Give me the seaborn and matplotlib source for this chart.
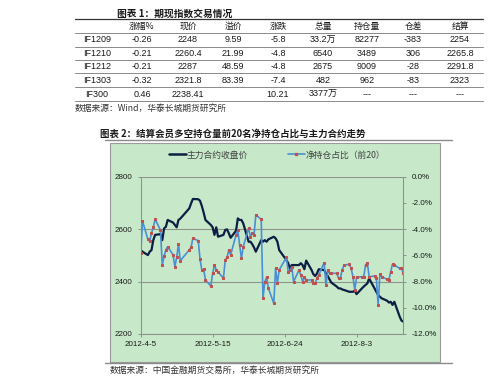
import numpy as np
import pandas as pd
import matplotlib
matplotlib.use("Agg")
import matplotlib.pyplot as plt
import matplotlib.dates as mdates
from matplotlib.lines import Line2D
from matplotlib.patches import Rectangle
from matplotlib.ticker import FuncFormatter
import seaborn as sns

sns.set_theme(style="white")
plt.rcParams["font.family"] = ["Liberation Sans", "Noto Sans CJK SC", "DejaVu Sans"]

# ---------------- table data ----------------
table_title = "图表 1：期现指数交易情况"
table_header = ["", "涨幅%", "现价", "溢价", "涨跌", "总量", "持仓量", "仓差", "结算"]
contracts = ["IF1209", "IF1210", "IF1212", "IF1303", "IF300"]
chg_pct = ["-0.26", "-0.21", "-0.21", "-0.32", "0.46"]
last_price = ["2248", "2260.4", "2287", "2321.8", "2238.41"]
premium = ["9.59", "21.99", "48.59", "83.39", ""]
chg = ["-5.8", "-4.8", "-4.8", "-7.4", "10.21"]
volume = ["33.2万", "6540", "2675", "482", "3377万"]
open_int = ["82277", "3489", "9009", "962", "---"]
oi_chg = ["-383", "306", "-28", "-83", "---"]
settle = ["2254", "2265.8", "2291.8", "2323", "---"]
table_source = "数据来源：Wind，华泰长城期货研究所"

# ---------------- chart data ----------------
chart_title = "图表 2：结算会员多空持仓量前20名净持仓占比与主力合约走势"
chart_source = "数据来源：中国金融期货交易所，华泰长城期货研究所"
series_price_name = "主力合约收盘价"
series_ratio_name = "净持仓占比（前20）"
trade_start = "2012-04-05"
trade_end = "2012-08-29"
holidays = ["2012-04-30", "2012-05-01", "2012-06-22"]
x_tick_dates = ["2012-04-05", "2012-05-15", "2012-06-24", "2012-08-03"]

price = [2520, 2514, 2501, 2514, 2520, 2558, 2578, 2581, 2558, 2603,
         2609, 2635, 2625, 2616, 2607, 2635, 2640,
         2679, 2698, 2715, 2714, 2708, 2688, 2663, 2635, 2616, 2607,
         2578, 2607, 2571, 2578, 2597, 2599, 2584, 2567, 2594, 2641,
         2635, 2635,
         2622, 2552, 2552, 2543, 2530, 2514, 2558, 2552, 2558, 2552,
         2561, 2571, 2565, 2552, 2520, 2482, 2470, 2450, 2463, 2463,
         2463, 2470, 2463, 2447, 2480, 2444, 2428, 2421, 2431, 2447,
         2444, 2431, 2421, 2408, 2396, 2381, 2374, 2374, 2370, 2368,
         2361, 2361,
         2361, 2365, 2352, 2374, 2381, 2387, 2393, 2412, 2374, 2361,
         2349, 2342, 2336, 2327, 2320, 2323, 2311, 2323, 2266, 2251,
         2247]

ratio = [-5.85, -3.38, -4.78, -4.91, -4.32, -3.86, -3.25, -4.07, -6.74, -6.05,
         -5.59, -5.34, -5.97, -6.86, -6.15, -5.14, -6.41,
         -5.59, -5.39, -4.70, -4.88, -6.31, -7.12, -7.07, -7.88, -8.34, -7.37,
         -6.74, -7.12, -7.25, -7.75, -6.36, -6.15, -5.59, -5.97, -4.45, -4.07,
         -5.21, -6.23,
         -5.34, -3.94, -4.58, -4.32, -4.45, -2.92, -3.25, -9.28, -8.01, -7.68,
         -8.52, -9.66, -6.99, -8.14, -7.12, -6.15, -7.25, -7.12, -6.86, -8.01,
         -7.12, -7.50, -8.01, -7.68, -7.88, -7.88, -8.14, -8.14, -7.75, -7.50,
         -6.56, -8.26, -7.12, -7.37, -7.37, -7.37, -7.75, -7.75, -7.12, -6.74,
         -6.69, -6.99,
         -7.63, -8.64, -7.68, -7.63, -7.63, -6.74, -6.56, -7.63, -7.58, -7.75,
         -9.79, -7.42, -7.63, -7.83, -7.88, -7.25, -6.66, -6.74, -6.99, -6.99,
         -7.37]

dates = pd.bdate_range(trade_start, trade_end).drop(pd.to_datetime(holidays))
n = min(len(dates), len(price), len(ratio))
df = pd.DataFrame({"date": dates[:n], "price": price[:n], "ratio": ratio[:n]})

# ---------------- figure ----------------
W, H = 500, 383
fig = plt.figure(figsize=(W / 100, H / 100), dpi=100)
fig.patch.set_facecolor("white")

def fy(y):
    return 1 - y / H

def fx(x):
    return x / W

TXT = "#1a1a1a"
cjk = ["Noto Sans CJK SC", "DejaVu Sans"]
num = ["Liberation Sans", "Noto Sans CJK SC", "DejaVu Sans"]

# table title
fig.text(fx(117), fy(13.3), table_title, fontsize=7, fontweight="bold",
         family=cjk, ha="left", va="center", color=TXT, style="italic")

# table lines
line_ys = [19.3, 32.7, 46.7, 60.0, 73.3, 87.3, 100.7]
for i, ly in enumerate(line_ys):
    fig.add_artist(Line2D([fx(75), fx(483)], [fy(ly), fy(ly)],
                          color="#333333" if i == 0 else "#8a8a8a",
                          lw=0.9 if i == 0 else 0.7, transform=fig.transFigure))

col_x = [97, 142, 188, 233, 278, 323, 367, 413, 460]
header_y = 26
for cx, h in zip(col_x, table_header):
    fig.text(fx(cx), fy(header_y), h, fontsize=6.3, family=cjk, ha="center",
             va="center", color=TXT)
row_ys = [40, 53.3, 66.7, 80.3, 94.3]
cols = [contracts, chg_pct, last_price, premium, chg, volume, open_int, oi_chg, settle]
for r, ry in enumerate(row_ys):
    for cx, col in zip(col_x, cols):
        fig.text(fx(cx), fy(ry), col[r], fontsize=6.5, family=num, ha="center",
                 va="center", color=TXT)

fig.text(fx(75), fy(108.3), table_source, fontsize=6.3, family=cjk, ha="left",
         va="center", color="#333333", style="italic")

# chart title & frame lines
fig.text(fx(100), fy(133.3), chart_title, fontsize=6.8, fontweight="bold",
         family=cjk, ha="left", va="center", color=TXT, style="italic")
for ly in (140.0, 363.3):
    fig.add_artist(Line2D([fx(105), fx(452)], [fy(ly), fy(ly)], color="#8a8a8a",
                          lw=1.0, transform=fig.transFigure))

GREEN = "#C7E9C9"
fig.add_artist(Rectangle((fx(110), fy(361.7)), fx(440) - fx(110), fy(142.7) - fy(361.7),
                         facecolor=GREEN, edgecolor="#9a9a9a", lw=0.8,
                         transform=fig.transFigure, zorder=0))

fig.text(fx(110), fy(370.7), chart_source, fontsize=6.3, family=cjk, ha="left",
         va="center", color="#333333", style="italic")

# axes
ax = fig.add_axes([fx(140.7), fy(334), fx(403.3) - fx(140.7), fy(176.7) - fy(334)])
ax.set_facecolor(GREEN)
ax.patch.set_alpha(0)

DARK = "#0D1D45"
BLUE = "#4A8FD6"
RED = "#C0504D"
GRID = "#8C948C"

sns.lineplot(data=df, x="date", y="price", ax=ax, color=DARK, lw=1.6,
             label=series_price_name, legend=False)
ax.set_ylim(2200, 2800)
ax.set_yticks([2200, 2400, 2600, 2800])
ax.set_xlim(df["date"].iloc[0], df["date"].iloc[-1])
ax.yaxis.grid(True, color=GRID, lw=0.8)
ax.xaxis.grid(False)
ax.set_xlabel("")
ax.set_ylabel("")
for s in ("left", "bottom"):
    ax.spines[s].set_color(GRID)
    ax.spines[s].set_linewidth(0.8)
for s in ("top", "right"):
    ax.spines[s].set_visible(False)

xt = pd.to_datetime(x_tick_dates)
ax.set_xticks(xt)
ax.xaxis.set_major_formatter(FuncFormatter(
    lambda v, p: (lambda d: f"{d.year}-{d.month}-{d.day}")(mdates.num2date(v))))
ax.tick_params(axis="x", direction="out", length=2.5, width=0.7, color=GRID,
               labelsize=5.8, pad=2.5, labelcolor=TXT, bottom=True)
ax.tick_params(axis="y", direction="out", length=2.5, width=0.7, color=GRID,
               labelsize=5.8, pad=3.5, labelcolor=TXT, left=True)

ax2 = ax.twinx()
sns.lineplot(data=df, x="date", y="ratio", ax=ax2, color=BLUE, lw=1.2,
             marker="s", markersize=2.0, markerfacecolor=RED, markeredgecolor=RED,
             label=series_ratio_name, legend=False)
ax2.set_ylim(-12, 0)
ax2.set_yticks(np.arange(-12, 0.1, 2))
ax2.yaxis.set_major_formatter(FuncFormatter(lambda v, p: f"{v:.1f}%"))
ax2.set_ylabel("")
for s in ("left", "top", "bottom"):
    ax2.spines[s].set_visible(False)
ax2.spines["right"].set_color(GRID)
ax2.spines["right"].set_linewidth(0.8)
ax2.tick_params(axis="y", direction="out", length=2.5, width=0.7, color=GRID,
                labelsize=5.8, pad=3.5, labelcolor=TXT, right=True)
ax2.grid(False)

# legend
h1 = Line2D([], [], color=DARK, lw=1.8)
h2 = Line2D([], [], color=BLUE, lw=1.2, marker="s", markersize=2.0,
            markerfacecolor=RED, markeredgecolor=RED)
fig.legend([h1, h2], [series_price_name, series_ratio_name],
           loc="center", bbox_to_anchor=(fx(277), fy(155)), ncol=2, frameon=False,
           prop={"family": cjk, "size": 6.3}, handlelength=2.0, handletextpad=0.1,
           columnspacing=4.5, labelcolor="#404040")

fig.savefig("out.png", dpi=100, facecolor="white")
